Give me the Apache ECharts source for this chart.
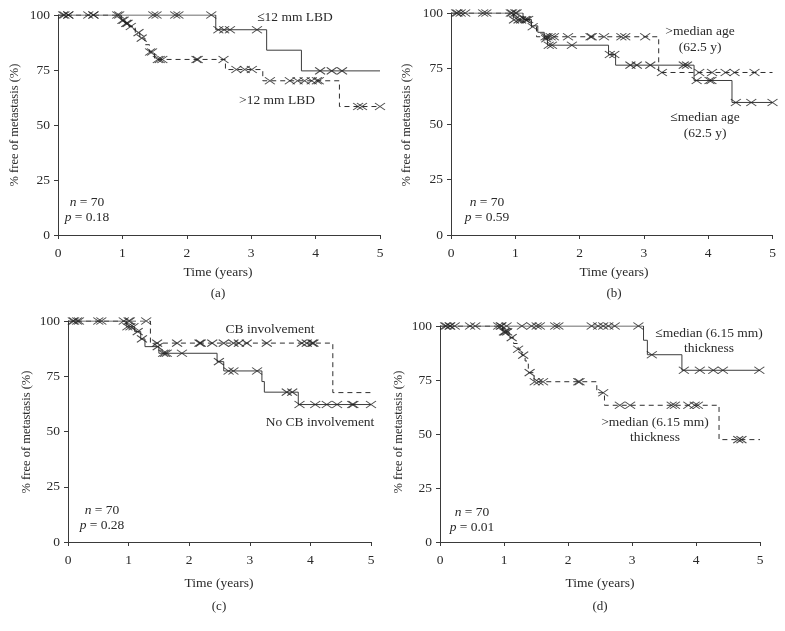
<!DOCTYPE html>
<html>
<head>
<meta charset="utf-8">
<script src="https://cdn.jsdelivr.net/npm/echarts@6/dist/echarts.min.js"></script>
<style>html,body{margin:0;padding:0;background:#fff;}#c{width:785px;height:631px;}</style>
</head>
<body>
<div id="c"></div>
<script>
// ---------- Data ----------
// Panel (a): LBD
const aLowCurve = [[0,100],[2.45,93.3],[3.24,84.0],[3.78,74.6],[5,74.6]];
const aLowCensor = [0.10,0.16,0.47,0.55,0.92,1.48,1.53,1.82,1.87,2.38,2.49,2.58,2.67,3.09,4.07,4.25,4.41];
const aHighCurve = [[0,100],[0.98,97.6],[1.04,96.2],[1.10,94.8],[1.20,92.0],[1.27,89.5],[1.35,86.5],[1.42,83.2],[1.50,79.8],[2.60,75.2],[3.18,70.1],[4.37,58.4],[5,58.4]];
const aHighCensor = [0.08,0.16,0.55,0.95,1.00,1.02,1.06,1.08,1.13,1.25,1.30,1.43,1.46,1.55,1.58,1.62,2.15,2.17,2.57,2.77,2.90,3.01,3.29,3.60,3.72,3.83,3.94,4.02,4.05,4.66,4.72,5.00];
// Panel (b): age
const bLowCurve = [[0,100],[1.12,97.1],[1.25,94.2],[1.35,91.3],[1.45,88.4],[1.50,85.5],[2.45,81.3],[2.56,76.5],[3.78,69.6],[4.37,59.7],[5,59.7]];
const bLowCensor = [0.08,0.22,0.95,1.00,1.02,1.15,1.20,1.48,1.52,1.57,1.88,2.47,2.54,2.79,2.89,3.10,3.62,3.67,3.82,4.02,4.05,4.43,4.67,5.00];
const bHighCurve = [[0,100],[0.97,96.9],[1.25,93.8],[1.33,89.3],[3.23,73.2],[5,73.2]];
const bHighCensor = [0.10,0.15,0.50,0.55,0.93,0.98,1.05,1.09,1.17,1.27,1.47,1.50,1.55,1.60,1.82,2.17,2.19,2.38,2.65,2.71,3.02,3.28,3.86,4.06,4.27,4.41,4.72];
// Panel (c): CB involvement
const cNoCurve = [[0,100],[0.97,97.4],[1.10,95.2],[1.20,91.9],[1.27,88.4],[1.50,85.4],[2.46,81.6],[2.57,77.4],[3.20,72.6],[3.24,67.8],[3.80,62.2],[5,62.2]];
const cNoCensor = [0.08,0.15,0.50,0.55,0.92,0.98,1.03,1.08,1.15,1.22,1.48,1.57,1.60,1.63,1.88,2.49,2.65,2.73,3.12,3.61,3.70,3.82,4.08,4.27,4.44,4.69,4.71,5.00];
const cCbCurve = [[0,100],[1.36,90.0],[4.37,67.6],[5,67.6]];
const cCbCensor = [0.10,0.18,1.00,1.02,1.29,1.47,1.80,2.17,2.19,2.38,2.57,2.73,2.82,2.95,3.28,3.86,3.94,4.03,4.05];
// Panel (d): thickness
const dLowCurve = [[0,100],[3.18,93.4],[3.24,86.7],[3.78,79.5],[5,79.5]];
const dLowCensor = [0.08,0.16,0.23,0.47,0.55,0.91,0.96,1.04,1.28,1.43,1.51,1.56,1.80,1.85,2.37,2.47,2.55,2.63,2.73,3.10,3.31,3.81,4.06,4.27,4.42,4.99];
const dHighCurve = [[0,100],[0.98,97.3],[1.08,94.6],[1.15,91.9],[1.22,89.2],[1.28,86.5],[1.33,83.8],[1.38,78.4],[1.47,74.2],[2.45,69.1],[2.57,63.3],[4.36,47.4],[5,47.4]];
const dHighCensor = [0.10,0.15,0.95,1.00,1.02,1.05,1.12,1.22,1.30,1.40,1.48,1.54,1.61,2.16,2.18,2.55,2.81,2.97,3.62,3.67,3.88,3.98,4.03,4.66,4.71];

const xMin = 0, xMax = 5, xStep = 1;
const yMin = 0, yMax = 100, yStep = 25;
const xTitle = 'Time (years)';
const yTitle = '% free of metastasis (%)';
const panelTags = ['(a)','(b)','(c)','(d)'];
const nText = '70';
const pValues = ['0.18','0.59','0.28','0.01'];

// ---------- Helpers ----------
function survAt(curve, t) {
  let y = curve[0][1];
  for (const p of curve) { if (p[0] <= t) y = p[1]; else break; }
  return y;
}
function censorPts(curve, times) { return times.map(t => [t, survAt(curve, t)]); }

const FONT = 'Liberation Serif';
const AX = '#3a3a3a';
const TXT = '#2a2a2a';
const grids = [
  {left: 58, top: 15, width: 322, height: 220},
  {left: 451, top: 13, width: 321.5, height: 222},
  {left: 68, top: 321, width: 303, height: 221},
  {left: 440, top: 326, width: 320, height: 216}
];
const xAxes = grids.map((g, i) => ({
  type: 'value', gridIndex: i, min: xMin, max: xMax, interval: xStep,
  axisLine: {show: true, lineStyle: {color: AX, width: 1}},
  axisTick: {show: true, length: 4, lineStyle: {color: AX}},
  splitLine: {show: false},
  axisLabel: {color: TXT, fontFamily: FONT, fontSize: 13.5, margin: 11}
}));
const yAxes = grids.map((g, i) => ({
  type: 'value', gridIndex: i, min: yMin, max: yMax, interval: yStep,
  axisLine: {show: true, lineStyle: {color: AX, width: 1}},
  axisTick: {show: true, length: 4, lineStyle: {color: AX}},
  splitLine: {show: false},
  axisLabel: {color: TXT, fontFamily: FONT, fontSize: 13.5, margin: 8}
}));

const CROSS = 'path://M0,0L10,7M10,0L0,7';
function stepLine(i, data, dashed) {
  return {type: 'line', xAxisIndex: i, yAxisIndex: i, data: data, step: 'end',
    showSymbol: false, silent: true, z: 2,
    lineStyle: {color: dashed ? '#2e2e2e' : '#3c3c3c', width: 1, type: dashed ? [5, 4] : 'solid'}};
}
function censors(i, curve, times) {
  return {type: 'scatter', xAxisIndex: i, yAxisIndex: i, data: censorPts(curve, times),
    symbol: CROSS, symbolSize: [10, 7], silent: true, z: 3,
    itemStyle: {color: 'rgba(0,0,0,0)', borderColor: '#1e1e1e', borderWidth: 1}};
}
const series = [
  stepLine(0, aLowCurve, false), stepLine(0, aHighCurve, true),
  censors(0, aLowCurve, aLowCensor), censors(0, aHighCurve, aHighCensor),
  stepLine(1, bLowCurve, false), stepLine(1, bHighCurve, true),
  censors(1, bLowCurve, bLowCensor), censors(1, bHighCurve, bHighCensor),
  stepLine(2, cNoCurve, false), stepLine(2, cCbCurve, true),
  censors(2, cNoCurve, cNoCensor), censors(2, cCbCurve, cCbCensor),
  stepLine(3, dLowCurve, false), stepLine(3, dHighCurve, true),
  censors(3, dLowCurve, dLowCensor), censors(3, dHighCurve, dHighCensor)
];

function txt(x, y, s, size, extra) {
  return Object.assign({type: 'text', x: x, y: y, silent: true, z: 10,
    style: {text: s, fill: TXT, fontFamily: FONT, fontSize: size || 13.5, align: 'center', verticalAlign: 'middle'}}, extra || {});
}
function rtxt(x, y, s) {
  return {type: 'text', x: x, y: y, silent: true, z: 10,
    style: {text: s, fill: TXT, fontFamily: FONT, fontSize: 13.5, align: 'center', verticalAlign: 'middle',
      rich: {i: {fontStyle: 'italic', fontFamily: FONT, fontSize: 13.5, fill: TXT}}}};
}
const titleX = [218, 614, 219, 600];
const titleY = [272, 272, 583, 583];
const tagY = [294, 294, 607, 607];
const yTitleX = [15, 407, 27, 399];
const yTitleY = [125, 125, 432, 432];
const npX = [87, 487, 102, 472];
const npY = [202, 202, 510, 512];
const graphics = [];
for (let i = 0; i < 4; i++) {
  graphics.push(txt(titleX[i], titleY[i], xTitle, 13.5));
  graphics.push(txt(titleX[i], tagY[i], panelTags[i], 13));
  graphics.push(txt(yTitleX[i], yTitleY[i], yTitle, 12.5, {rotation: Math.PI / 2}));
  graphics.push(rtxt(npX[i], npY[i], '{i|n} = ' + nText));
  graphics.push(rtxt(npX[i], npY[i] + 15, '{i|p} = ' + pValues[i]));
}
graphics.push(txt(295, 17, '\u226412 mm LBD'));
graphics.push(txt(277, 100, '>12 mm LBD'));
graphics.push(txt(700, 31, '>median age'));
graphics.push(txt(700, 47, '(62.5 y)'));
graphics.push(txt(705, 117, '\u2264median age'));
graphics.push(txt(705, 133, '(62.5 y)'));
graphics.push(txt(270, 329, 'CB involvement'));
graphics.push(txt(320, 422, 'No CB involvement'));
graphics.push(txt(709, 333, '\u2264median (6.15 mm)'));
graphics.push(txt(709, 348, 'thickness'));
graphics.push(txt(655, 422, '>median (6.15 mm)'));
graphics.push(txt(655, 437, 'thickness'));

const chart = echarts.init(document.getElementById('c'), null, {renderer: 'canvas'});
chart.setOption({
  animation: false,
  backgroundColor: '#fff',
  grid: grids,
  xAxis: xAxes,
  yAxis: yAxes,
  series: series,
  graphic: graphics
});
</script>
</body>
</html>
